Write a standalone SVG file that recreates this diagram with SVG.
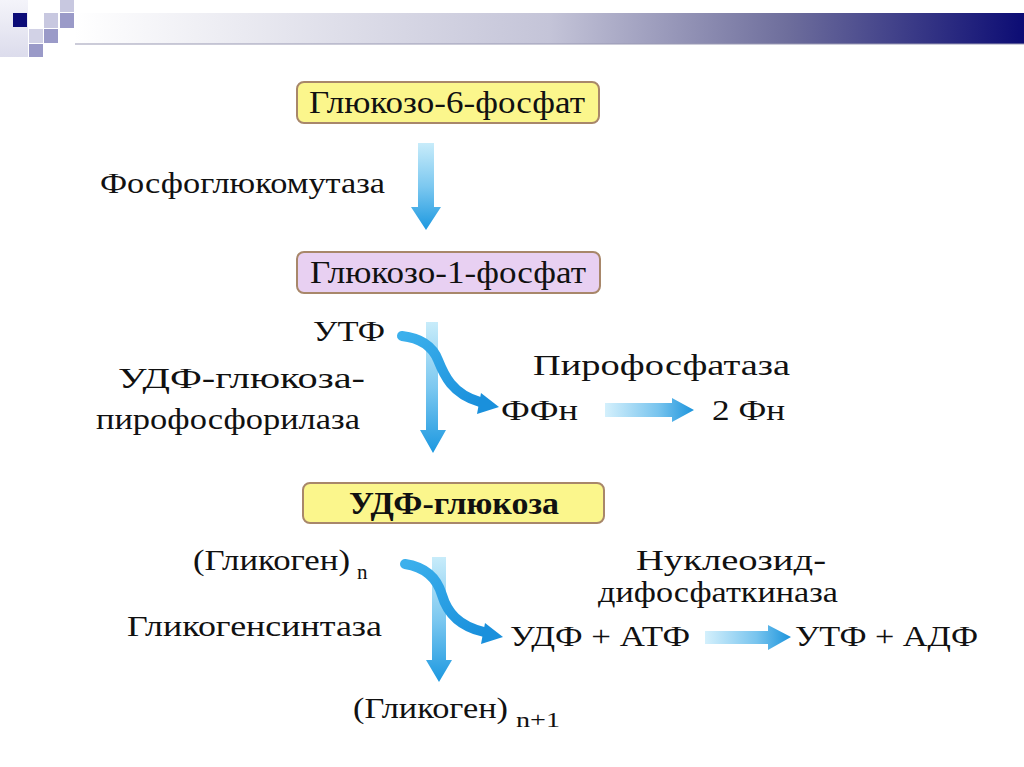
<svg xmlns="http://www.w3.org/2000/svg" width="1024" height="767" viewBox="0 0 1024 767">
<defs>
<linearGradient id="bar" x1="0" y1="0" x2="1" y2="0">
<stop offset="0" stop-color="#ffffff"/>
<stop offset="0.5" stop-color="#c4c4d8"/>
<stop offset="0.75" stop-color="#6e6e9c"/>
<stop offset="1" stop-color="#0c0c74"/>
</linearGradient>
<linearGradient id="col" x1="0" y1="0" x2="0" y2="1">
<stop offset="0" stop-color="#f4f4fa"/>
<stop offset="1" stop-color="#dcdcec"/>
</linearGradient>
<linearGradient id="vdown" x1="0" y1="0" x2="0" y2="1">
<stop offset="0" stop-color="#c8ecfa"/>
<stop offset="0.5" stop-color="#7cc8f0"/>
<stop offset="1" stop-color="#1c98e0"/>
</linearGradient>
<linearGradient id="hright" x1="0" y1="0" x2="1" y2="0">
<stop offset="0" stop-color="#d4f0fc"/>
<stop offset="0.6" stop-color="#78c4ee"/>
<stop offset="1" stop-color="#1c94dc"/>
</linearGradient>
<linearGradient id="curv" x1="0" y1="0" x2="1" y2="1">
<stop offset="0" stop-color="#3cb0ec"/>
<stop offset="1" stop-color="#1a90dc"/>
</linearGradient>
</defs>
<style>
.box{stroke:#a8876a;stroke-width:2}
.bt{font-family:"Liberation Serif","DejaVu Serif",serif;font-size:31px;fill:#111;text-anchor:middle}
.lb{font-family:"Liberation Serif","DejaVu Serif",serif;font-size:29px;fill:#111}
.sub{font-family:"Liberation Serif","DejaVu Serif",serif;font-size:21px;fill:#111}
.cv{fill:none;stroke:url(#curv);stroke-width:10;stroke-linecap:round}
</style>
<rect width="1024" height="767" fill="#ffffff"/>
<g id="header">
<rect x="0" y="0" width="28" height="57" fill="url(#col)"/>
<rect x="75" y="13" width="949" height="31" fill="url(#bar)"/>
<rect x="75" y="43" width="949" height="2" fill="#9a9ab4" opacity="0.5"/>
<rect x="13" y="13" width="14" height="14" fill="#0c0c78"/>
<rect x="44" y="13" width="14" height="15" fill="#c8c8e0"/>
<rect x="60" y="0" width="14" height="12" fill="#c8c8e0"/>
<rect x="60" y="13" width="14" height="15" fill="#9a9ac8"/>
<rect x="29" y="29" width="14" height="14" fill="#d2d2e6"/>
<rect x="44" y="29" width="14" height="14" fill="#9a9ac8"/>
<rect x="29" y="44" width="14" height="13" fill="#9a9ac8"/>
</g>
<g id="node-g6p">
<rect class="box" x="297" y="82" width="302" height="41" rx="7" fill="#fbf68c"/>
<text class="bt" x="447" y="113" textLength="276" lengthAdjust="spacingAndGlyphs">Глюкозо-6-фосфат</text>
</g>
<g id="node-g1p">
<rect class="box" x="297" y="252" width="303" height="41" rx="7" fill="#e8d0f2"/>
<text class="bt" x="448" y="283" textLength="276" lengthAdjust="spacingAndGlyphs">Глюкозо-1-фосфат</text>
</g>
<g id="node-udpg">
<rect class="box" x="303" y="483" width="301" height="40" rx="7" fill="#fbf68c"/>
<text class="bt" x="454" y="514" font-weight="bold" textLength="210" lengthAdjust="spacingAndGlyphs">УДФ-глюкоза</text>
</g>
<g id="labels">
<text class="lb" x="100" y="193" textLength="285" lengthAdjust="spacingAndGlyphs">Фосфоглюкомутаза</text>
<text class="lb" x="313" y="341" textLength="72" lengthAdjust="spacingAndGlyphs">УТФ</text>
<text class="lb" x="118" y="388" textLength="247" lengthAdjust="spacingAndGlyphs">УДФ-глюкоза-</text>
<text class="lb" x="96" y="429" textLength="264" lengthAdjust="spacingAndGlyphs">пирофосфорилаза</text>
<text class="lb" x="533" y="375" textLength="257" lengthAdjust="spacingAndGlyphs">Пирофосфатаза</text>
<text class="lb" x="501" y="420" textLength="77" lengthAdjust="spacingAndGlyphs">ФФн</text>
<text class="lb" x="712" y="420" textLength="73" lengthAdjust="spacingAndGlyphs">2 Фн</text>
<text class="lb" x="193" y="570" textLength="157" lengthAdjust="spacingAndGlyphs">(Гликоген)</text>
<text class="sub" x="357" y="579">n</text>
<text class="lb" x="127" y="636" textLength="255" lengthAdjust="spacingAndGlyphs">Гликогенсинтаза</text>
<text class="lb" x="636" y="570" textLength="190" lengthAdjust="spacingAndGlyphs">Нуклеозид-</text>
<text class="lb" x="598" y="602" textLength="240" lengthAdjust="spacingAndGlyphs">дифосфаткиназа</text>
<text class="lb" x="510" y="646" textLength="180" lengthAdjust="spacingAndGlyphs">УДФ + АТФ</text>
<text class="lb" x="795" y="646" textLength="183" lengthAdjust="spacingAndGlyphs">УТФ + АДФ</text>
<text class="lb" x="353" y="718" textLength="155" lengthAdjust="spacingAndGlyphs">(Гликоген)</text>
<text class="sub" x="516" y="727" textLength="44" lengthAdjust="spacingAndGlyphs">n+1</text>
</g>
<g id="connectors">
<polygon fill="url(#vdown)" points="418,143 434,143 434,207 441,207 426,230 411,207 418,207"/>
<polygon fill="url(#vdown)" points="426,322 438,322 438,430 446,430 433,453 420,430 426,430"/>
<path class="cv" d="M402,336 C420,338 432,345 438,360 S452,394 480,402"/>
<polygon fill="#1a90dc" points="481,393 499,407 477,414"/>
<polygon fill="url(#hright)" points="605,403 672,403 672,398 694,410 672,422 672,417 605,417"/>
<polygon fill="url(#vdown)" points="432,557 446,557 446,660 452,660 439,682 426,660 432,660"/>
<path class="cv" d="M405,564 C425,567 437,578 442,595 S458,626 484,632"/>
<polygon fill="#1a90dc" points="485,623 503,637 481,644"/>
<polygon fill="url(#hright)" points="705,631 768,631 768,625 791,637 768,650 768,644 705,644"/>
</g>
</svg>
